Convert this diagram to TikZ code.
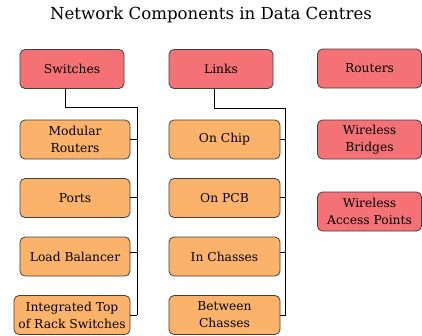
\documentclass[tikz,border=0pt]{standalone}
\usepackage{fontspec}
\setmainfont{DejaVu Serif}
\begin{document}
\begin{tikzpicture}[x=1pt,y=-1pt,
  box/.style={draw=black!75,line width=0.8pt,rounded corners=5pt,align=center,
    font=\fontsize{12.3}{17}\selectfont,inner sep=1pt},
  topbox/.style={box,fill=redfill,minimum width=104pt,minimum height=39pt},
  subbox/.style={box,fill=orangefill,minimum width=111pt,minimum height=39pt},
  conn/.style={draw=black,line width=0.9pt}]
\definecolor{redfill}{HTML}{F47275}
\definecolor{orangefill}{HTML}{FBB36B}
\useasboundingbox (0,0) rectangle (422,335);
\node[font=\fontsize{16.6}{20}\selectfont] (title) at (211,15) {Network Components in Data Centres};
% top row
\node[topbox] (sw) at (72,69) {Switches};
\node[topbox] (li) at (221,69) {Links};
\node[topbox] (ro) at (369.5,68.5) {Routers};
\node[topbox] (wb) at (369.5,139.5) {Wireless\\Bridges};
\node[topbox] (wa) at (369.5,211.5) {Wireless\\Access Points};
% switches column
\node[subbox,minimum width=110pt] (mr) at (75,139.5) {Modular\\Routers};
\node[subbox,minimum width=110pt] (po) at (75,198) {Ports};
\node[subbox,minimum width=110pt] (lb) at (75,256.5) {Load Balancer};
\node[subbox,minimum width=116pt] (it) at (72,315) {Integrated Top\\of Rack Switches};
% links column
\node[subbox] (oc) at (224.5,139.5) {On Chip};
\node[subbox] (op) at (224.5,198) {On PCB};
\node[subbox] (ic) at (224.5,256.5) {In Chasses};
\node[subbox] (bc) at (224.5,315) {Between\\Chasses};
% connectors switches
\coordinate (swbend) at (137,107);
\draw[conn] ([xshift=-7pt]sw.south) |- (swbend) -- (swbend |- it.east);
\draw[conn] (mr.east) -- (mr.east -| swbend);
\draw[conn] ([yshift=1pt]po.east) -- ([yshift=1pt]po.east -| swbend);
\draw[conn] ([yshift=4pt]lb.east) -- ([yshift=4pt]lb.east -| swbend);
\draw[conn] (it.east) -- (it.east -| swbend);
% connectors links
\coordinate (libend) at (285.5,108);
\draw[conn] ([xshift=-7pt]li.south) |- (libend) -- (libend |- bc.east);
\draw[conn] (oc.east) -- (oc.east -| libend);
\draw[conn] ([yshift=1pt]op.east) -- ([yshift=1pt]op.east -| libend);
\draw[conn] ([yshift=4pt]ic.east) -- ([yshift=4pt]ic.east -| libend);
\draw[conn] (bc.east) -- (bc.east -| libend);
\end{tikzpicture}
\end{document}
